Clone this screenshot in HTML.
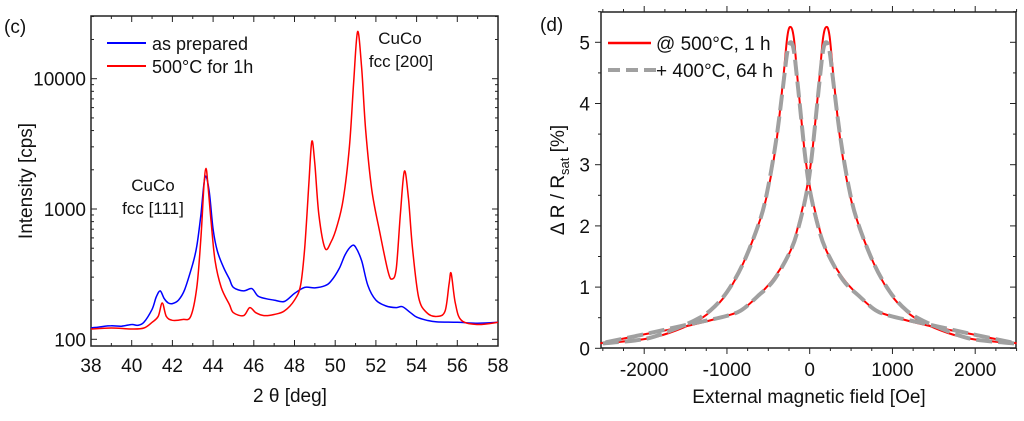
<!DOCTYPE html>
<html><head><meta charset="utf-8"><style>
body{margin:0;background:#fff;width:1024px;height:416px;overflow:hidden}
svg text{font-family:"Liberation Sans",Arial,sans-serif;fill:#111}
</style></head><body>
<svg id="s" width="1024" height="416"></svg>
<script>
// ---- XRD data (c) ----
const xrdBlueX=[38,38.5,39,39.5,40,40.3,40.6,41,41.2,41.4,41.6,41.8,42,42.3,42.6,43,43.2,43.4,43.6,43.8,44,44.2,44.5,44.8,45,45.5,45.9,46.2,46.6,47,47.5,48,48.5,49,49.5,49.8,50.2,50.5,50.8,51,51.3,51.6,52,52.5,53,53.3,53.7,54,54.5,55,56,57,58];
const xrdBlueY=[122,125,127,126,130,128,135,170,210,235,205,190,188,200,240,380,520,900,1750,1400,700,480,360,290,250,235,245,215,205,200,195,225,250,248,258,280,350,450,520,510,400,260,200,180,175,178,160,148,140,136,135,133,135];
const xrdRedX=[38,39,40,40.6,41,41.3,41.5,41.7,42,42.5,42.9,43.2,43.4,43.55,43.65,43.75,43.9,44.1,44.4,44.8,45,45.5,45.8,46.1,46.5,47,47.5,48,48.3,48.5,48.7,48.85,49,49.2,49.5,49.8,50.1,50.4,50.7,50.9,51.1,51.3,51.5,51.8,52.2,52.6,52.8,53.0,53.2,53.4,53.6,53.8,54.1,54.5,55,55.4,55.6,55.7,55.9,56.2,57,58];
const xrdRedY=[120,122,120,122,135,150,190,150,140,142,150,250,600,1500,2050,1500,800,400,250,185,160,152,175,160,152,155,165,200,260,500,1500,3300,2200,900,500,560,750,1200,3000,9000,23000,12000,4000,1400,650,330,290,350,900,1950,1200,500,210,160,150,165,270,320,190,140,130,135];
const xTicksC=[38,40,42,44,46,48,50,52,54,56,58];
const yTicksC=[100,1000,10000];
// ---- MR data (d) ----
const mrX=[-2500,-2000,-1700,-1400,-1200,-1000,-800,-600,-500,-400,-320,-270,-230,-190,-140,-60,0,100,200,400,600,800,1000,1400,1800,2000,2500];
const mrRedA=[0.08,0.15,0.25,0.42,0.6,0.9,1.4,2.1,2.6,3.4,4.4,5.1,5.25,5.05,4.3,3.2,2.65,2.05,1.6,1.15,0.85,0.62,0.52,0.38,0.27,0.22,0.08];
const mrGreyA=[0.08,0.15,0.28,0.45,0.62,0.92,1.4,2.1,2.65,3.45,4.3,4.85,5.0,4.85,4.25,3.2,2.6,2.0,1.6,1.12,0.85,0.62,0.52,0.4,0.28,0.22,0.08];
const xTicksD=[-2000,-1000,0,1000,2000];
const yTicksD=[0,1,2,3,4,5];

const NS="http://www.w3.org/2000/svg";const S=document.getElementById('s');
function el(t,a,txt){const e=document.createElementNS(NS,t);for(const k in a)e.setAttribute(k,a[k]);if(txt!=null)e.textContent=txt;S.appendChild(e);return e;}
const cx=v=>91+(v-38)*(498-91)/20;
const cy=v=>339.3-Math.log10(v/100)*130.3;
const dx=v=>809.7+v*0.08275;
const dy=v=>348.3-v*61.2;
function pathOf(xs,ys,fx,fy){
  const P=xs.map((x,i)=>[fx(x),fy(ys[i])]);
  let d='M'+P[0][0].toFixed(1)+','+P[0][1].toFixed(1);
  for(let i=0;i<P.length-1;i++){
    const p0=P[Math.max(0,i-1)],p1=P[i],p2=P[i+1],p3=P[Math.min(P.length-1,i+2)];
    const c1=[p1[0]+(p2[0]-p0[0])/6,p1[1]+(p2[1]-p0[1])/6],c2=[p2[0]-(p3[0]-p1[0])/6,p2[1]-(p3[1]-p1[1])/6];
    d+='C'+c1.map(v=>v.toFixed(1))+' '+c2.map(v=>v.toFixed(1))+' '+p2.map(v=>v.toFixed(1));
  }
  return d;
}

let f=el('rect',{x:91,y:16,width:407,height:330,fill:'none',stroke:'#222','stroke-width':1.5});

for(let v=38;v<=58;v+=1){const x=cx(v),L=(v%2==0)?6:3;el('line',{x1:x,y1:346,x2:x,y2:346-L,stroke:'#222'});el('line',{x1:x,y1:16,x2:x,y2:16+L,stroke:'#222'});}
for(let d=100;d<=10000;d*=10)for(let m=1;m<10;m++){const v=d*m;const y=cy(v);if(y<16||y>346)continue;const L=m==1?6:3;el('line',{x1:91,y1:y,x2:91+L,y2:y,stroke:'#222'});el('line',{x1:498,y1:y,x2:498-L,y2:y,stroke:'#222'});}
xTicksC.forEach(v=>{const t=el('text',{x:cx(v),y:372,'text-anchor':'middle','font-size':19},v);});
yTicksC.forEach(v=>{const t=el('text',{x:86,y:cy(v)+7,'text-anchor':'end','font-size':19},v);});
let p=el('path',{d:pathOf(xrdBlueX,xrdBlueY,cx,cy),fill:'none',stroke:'#0000ff','stroke-width':1.5});

p=el('path',{d:pathOf(xrdRedX,xrdRedY,cx,cy),fill:'none',stroke:'#ff0000','stroke-width':1.5});

el('line',{x1:107,y1:43,x2:146,y2:43,stroke:'#0000ff','stroke-width':2});
el('text',{x:152,y:50,'font-size':18},'as prepared');
el('line',{x1:107,y1:66,x2:146,y2:66,stroke:'#ff0000','stroke-width':2});
el('text',{x:152,y:73,'font-size':18},'500°C for 1h');
el('text',{x:4,y:33,'font-size':19},'(c)');
el('text',{x:400,y:44,'text-anchor':'middle','font-size':17},'CuCo');
el('text',{x:401,y:67,'text-anchor':'middle','font-size':17},'fcc [200]');
el('text',{x:153,y:191,'text-anchor':'middle','font-size':17},'CuCo');
el('text',{x:153,y:214,'text-anchor':'middle','font-size':17},'fcc [111]');
el('text',{x:290,y:402,'text-anchor':'middle','font-size':19},'2 θ [deg]');
el('text',{x:0,y:0,'text-anchor':'middle','font-size':19,transform:'translate(32,181) rotate(-90)'},'Intensity [cps]');

f=el('rect',{x:601,y:12,width:415,height:336,fill:'none',stroke:'#222','stroke-width':1.5});

for(let v=-2500;v<=2500;v+=250){const x=dx(v),L=(v%1000==0)?6:3;el('line',{x1:x,y1:348,x2:x,y2:348+L,stroke:'#222'});el('line',{x1:x,y1:12,x2:x,y2:12-L,stroke:'#222'});}
for(let v=0;v<=5.5;v+=0.5){const y=dy(v),L=(v%1==0)?6:3;el('line',{x1:601,y1:y,x2:601-L,y2:y,stroke:'#222'});el('line',{x1:1016,y1:y,x2:1016-L,y2:y,stroke:'#222'});}
xTicksD.forEach(v=>{const t=el('text',{x:dx(v),y:376,'text-anchor':'middle','font-size':19},v);});
yTicksD.forEach(v=>{const t=el('text',{x:590,y:dy(v)+7,'text-anchor':'end','font-size':19},v);});
function drawMR(ys,stroke,w,dash,name){
  const a=el('path',{d:pathOf(mrX,ys,dx,dy),fill:'none',stroke:stroke,'stroke-width':w,'stroke-dasharray':dash});
  
  const b=el('path',{d:pathOf(mrX.map(x=>-x-30),ys,dx,dy),fill:'none',stroke:stroke,'stroke-width':w,'stroke-dasharray':dash});
  
}
drawMR(mrRedA,'#ff0000',2,'none','500c-1h');
drawMR(mrGreyA,'#a0a0a0',4,'16,6','400c-64h');
el('line',{x1:608,y1:43,x2:651,y2:43,stroke:'#ff0000','stroke-width':2.5});
el('text',{x:656,y:50,'font-size':19},'@ 500°C, 1 h');
el('line',{x1:608,y1:70,x2:656,y2:70,stroke:'#a0a0a0','stroke-width':4,'stroke-dasharray':'12,6'});
el('text',{x:656,y:77,'font-size':19},'+ 400°C, 64 h');
el('text',{x:540,y:31,'font-size':19},'(d)');
el('text',{x:809,y:403,'text-anchor':'middle','font-size':19},'External magnetic field [Oe]');
const yl=el('text',{x:0,y:0,'text-anchor':'middle','font-size':19,transform:'translate(564,180) rotate(-90)'});
yl.innerHTML='Δ R / R<tspan font-size="13" dy="5">sat</tspan><tspan dy="-5"> [%]</tspan>';
</script>
</body></html>
